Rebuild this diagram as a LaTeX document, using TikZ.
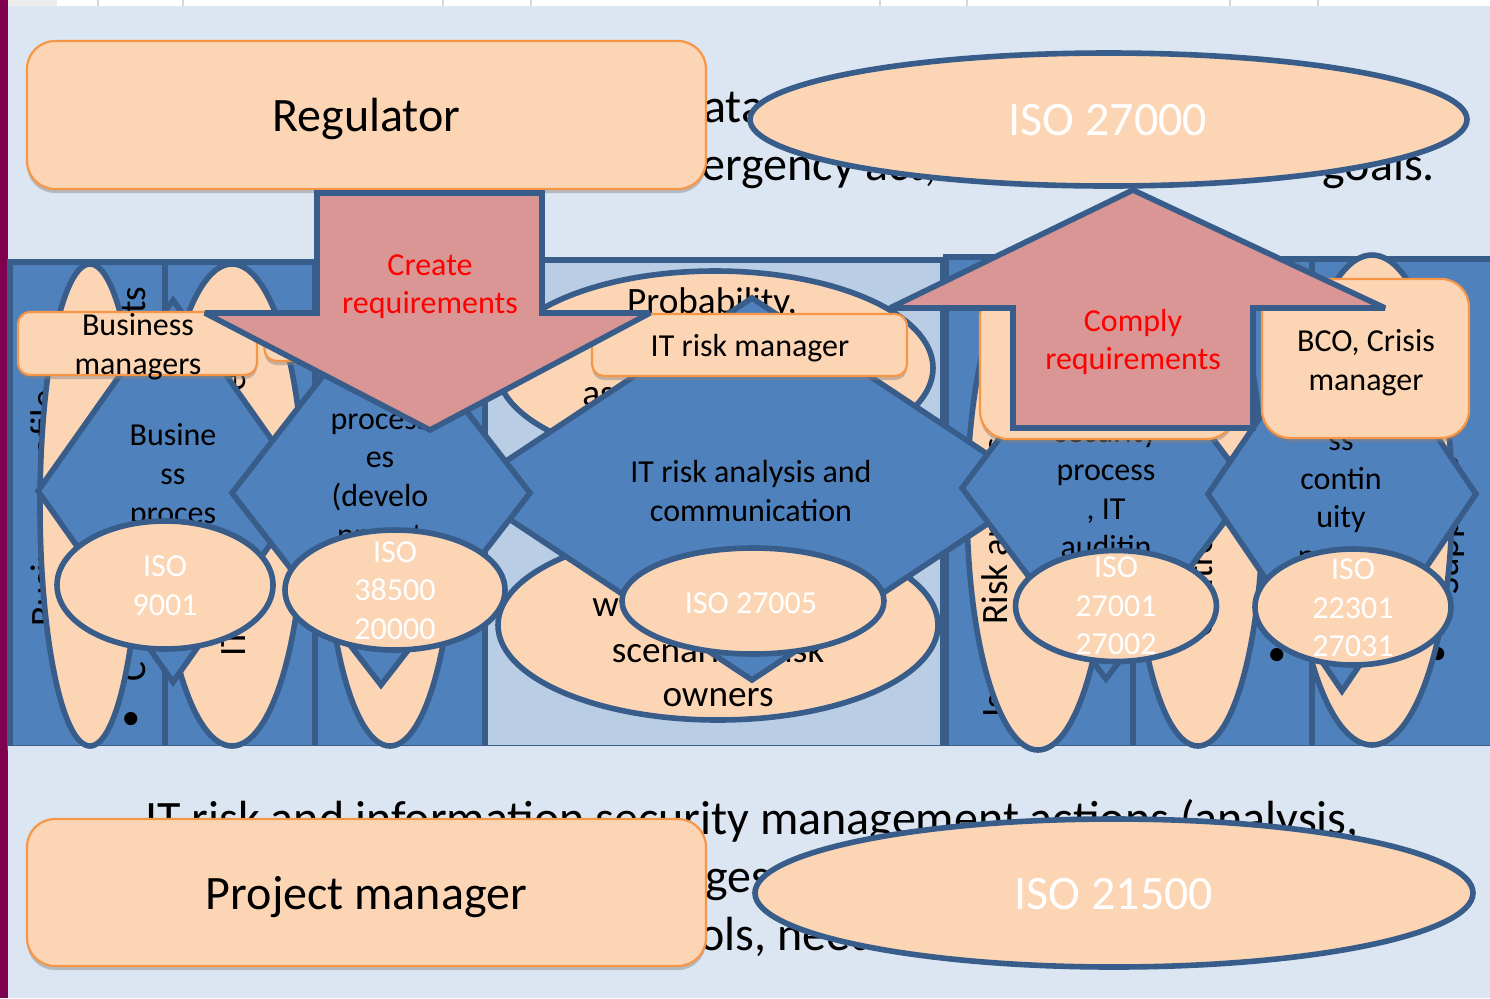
\documentclass[tikz,border=0pt]{standalone}
\usepackage{fontspec}
\setmainfont{Carlito}
\usetikzlibrary{shapes.geometric,shadows}
\definecolor{bgblue}{RGB}{220,230,242}
\definecolor{barpurple}{RGB}{128,0,80}
\definecolor{colblue}{RGB}{79,129,189}
\definecolor{lineblue}{RGB}{56,93,138}
\definecolor{paleblue}{RGB}{185,205,229}
\definecolor{peach}{RGB}{252,213,181}
\definecolor{boxorange}{RGB}{247,150,70}
\definecolor{arrowred}{RGB}{217,150,148}
\definecolor{tickgrey}{RGB}{215,215,215}
\tikzset{
  x=0.5pt,y=-0.5pt,
  txtm/.style={font=\fontsize{16}{19.3}\selectfont,align=center,inner sep=0pt,text=black},
  txtl/.style={font=\fontsize{18.6}{22.2}\selectfont,align=center,inner sep=0pt,text=black},
  txtbg/.style={font=\fontsize{24}{29}\selectfont,inner sep=0pt,anchor=base west,text=black},
  vert/.style={font=\fontsize{18.6}{22}\selectfont,inner sep=0pt,anchor=base west,rotate=90,text=black},
  dot/.style={font=\fontsize{18.6}{22}\selectfont,inner sep=0pt,text=black},
  isotxt/.style={font=\fontsize{16}{19.3}\selectfont,align=center,inner sep=0pt,text=white},
  bigtxt/.style={font=\fontsize{24}{28}\selectfont,align=center,inner sep=0pt},
  redtxt/.style={font=\fontsize{16}{19.3}\selectfont,align=center,inner sep=0pt,text=red},
  column/.style={draw=lineblue,line width=3.2pt},
  tallell/.style={shape=ellipse,draw=lineblue,line width=2.8pt,fill=peach,inner sep=0pt,outer sep=0pt},
  isoell/.style={shape=ellipse,draw=lineblue,line width=2.8pt,fill=peach,inner sep=0pt,outer sep=0pt},
  dia/.style={shape=diamond,draw=lineblue,line width=2.8pt,fill=colblue,inner sep=0pt,outer sep=0pt},
  rolebox/.style={shape=rectangle,draw=boxorange,line width=1.1pt,fill=peach,inner sep=0pt,outer sep=0pt,
    drop shadow={opacity=0.45,shadow xshift=0pt,shadow yshift=-2pt}},
  bigarrow/.style={draw=lineblue,line width=2.8pt,fill=arrowred,line join=miter,miter limit=3},
}
\begin{document}
\begin{tikzpicture}
\useasboundingbox (0,0) rectangle (1490,998);
% slide background
\fill[bgblue] (0,0) rectangle (1490,998);
\fill[white] (8,0) rectangle (1490,6);
\fill[black!7] (8,0) rectangle (57,6);
\foreach \tx in {98,183,443,531,880,967,1230,1318}{\fill[tickgrey] (\tx-1,0) rectangle (\tx+1,6);}
\fill[barpurple] (0,0) rectangle (8,998);
% text behind everything
\node[txtbg] (bga) at (703,122) {ata};
\node[txtbg] (bgb) at (701,180) {ergency act,};
\node[txtbg] (bgc) at (1322,180) {goals.};
\node[txtbg] (bgd) at (145,834) {IT risk and information security management actions (analysis,};
\node[txtbg] (bge) at (705,892) {ges};
\node[txtbg] (bgf) at (699,950) {ols, need};
% columns
\fill[column,fill=colblue] (10,262) rectangle (165,748);
\fill[column,fill=colblue] (165,262) rectangle (315,748);
\fill[column,fill=colblue] (315,262) rectangle (485,748);
\fill[column,fill=paleblue] (485,260) rectangle (943,748);
\fill[column,fill=colblue] (946,257) rectangle (1133,748);
\fill[column,fill=colblue] (1133,259) rectangle (1312,748);
\fill[column,fill=colblue] (1312,259) rectangle (1500,748);
\fill[bgblue] (8,746) rectangle (1490,760);
% text lying on the columns
\node[vert] (t1a) at (56,627) {Business profile};
\node[vert] (t1b) at (145,682) {C};
\node[vert] (t1c) at (145,314) {ts};
\node[dot] (t1d) at (131,721) {•};
\node[vert] (t5a) at (1007,718) {Is};
\node[vert] (t7a) at (1458,595) {Suppliers};
\node[dot] (t6b) at (1277,657) {•};
\node[dot] (t7b) at (1438,656) {•};
% tall ellipses
\node[tallell,minimum width=50pt,minimum height=241pt] (e1) at (90,505) {};
\node[tallell,minimum width=72pt,minimum height=241pt] (e2) at (232,505) {};
\node[tallell,minimum width=65pt,minimum height=241pt] (e3) at (390,505) {};
\node[tallell,minimum width=218pt,minimum height=97pt] (e4a) at (715,368) {};
\node[tallell,minimum width=220pt,minimum height=95pt] (e4b) at (718,625) {};
\node[tallell,minimum width=71pt,minimum height=245pt] (e5) at (1038,505) {};
\node[tallell,minimum width=65pt,minimum height=243pt] (e6) at (1198,503) {};
\node[tallell,minimum width=80pt,minimum height=245pt] (e7) at (1372,500) {};
% text on the ellipses
\node[vert] (t2a) at (245,657) {IT};
\node[vert] (t2b) at (245,392) {e};
\node[txtl] (t4a) at (712,304) {Probability,};
\node[txtl,anchor=west] (t4b) at (582,397) {as};
\node[txtl,anchor=west] (t4c) at (592,608) {w};
\node[txtl] (t4d) at (718,652) {scenarios, risk};
\node[txtl] (t4e) at (718,698) {owners};
\node[vert] (t5b) at (1007,625) {Risk analysis};
\node[vert] (t6a) at (1212,638) {Controls};
% diamonds
\node[dia,minimum width=288pt,minimum height=191pt] (d3) at (752,489) {};
\node[txtm] (d3t) at (751,491) {IT risk analysis and\\communication};
\node[dia,minimum width=135pt,minimum height=191pt] (d1) at (173,491) {};
\node[txtm] (d1t) at (173,476) {Busine\\ss\\proces};
\node[dia,minimum width=149pt,minimum height=192pt] (d2) at (381,493) {};
\node[txtm] (d2t) at (380,482) {process\\es\\(develo\\pment};
\node[dia,minimum width=144pt,minimum height=191pt] (d5) at (1106,488) {};
\node[txtm] (d5t) at (1106,489) {security\\process\\, IT\\auditin};
\node[dia,minimum width=134pt,minimum height=197pt] (d6) at (1342,494) {};
\node[txtm] (d6t) at (1341,503.5) {ss\\contin\\uity\\proces};
% role boxes
\node[rolebox,rounded corners=6pt,minimum width=119.5pt,minimum height=31.5pt] (r1) at (137.5,343.5) {};
\node[txtm] (r1t) at (138,347) {Business\\managers};
\node[rolebox,rounded corners=6pt,minimum width=117.5pt,minimum height=14pt] (r2) at (382,347) {};
\node[rolebox,rounded corners=6pt,minimum width=157.5pt,minimum height=31pt] (r3) at (749.5,345) {};
\node[txtm] (r3t) at (750,348) {IT risk manager};
\node[rolebox,rounded corners=14pt,minimum width=127.5pt,minimum height=75pt] (r4) at (1107.5,364) {};
\node[rolebox,rounded corners=14pt,minimum width=103.5pt,minimum height=79.5pt] (r5) at (1365.5,358.5) {};
\node[txtm] (r5t) at (1366,363) {BCO, Crisis\\manager};
% small standards ellipses
\node[isoell,minimum width=108pt,minimum height=64pt] (i1) at (165,585) {};
\node[isotxt] (i1t) at (165,585.5) {ISO\\9001};
\node[isoell,minimum width=110pt,minimum height=60pt] (i2) at (395,590) {};
\node[isotxt] (i2t) at (395,590.5) {ISO\\38500\\20000};
\node[isoell,minimum width=131pt,minimum height=53pt] (i3) at (753,601) {};
\node[isotxt] (i3t) at (751,603) {ISO 27005};
\node[isoell,minimum width=100.5pt,minimum height=55.5pt] (i4) at (1116,606) {};
\node[isotxt] (i4t) at (1116,606) {ISO\\27001\\27002};
\node[isoell,minimum width=98pt,minimum height=58pt] (i5) at (1353,607) {};
\node[isotxt] (i5t) at (1353,608) {ISO\\22301\\27031};
% large boxes and ellipses
\node[rolebox,rounded corners=14pt,minimum width=339.5pt,minimum height=74pt] (reg) at (366.5,115) {};
\node[bigtxt] (regt) at (366.5,119) {Regulator};
\node[rolebox,rounded corners=14pt,minimum width=339.5pt,minimum height=73.5pt] (pm) at (366.5,892.5) {};
\node[bigtxt] (pmt) at (366.5,897) {Project manager};
\node[isoell,minimum width=358.5pt,minimum height=66.5pt] (iso27) at (1108.5,119.5) {};
\node[bigtxt,text=white] (iso27t) at (1108,120) {ISO 27000};
\node[isoell,minimum width=359pt,minimum height=74pt] (iso21) at (1114,893) {};
\node[bigtxt,text=white] (iso21t) at (1114,894) {ISO 21500};
% big arrows
\draw[bigarrow] (317,193) -- (542,193) -- (542,313) -- (650,313) -- (430,430) -- (205,313) -- (317,313) -- cycle;
\node[redtxt] (create) at (430,286.5) {Create\\requirements};
\draw[bigarrow] (1133,190) -- (1385,308) -- (1253,308) -- (1253,428) -- (1013,428) -- (1013,308) -- (890,308) -- cycle;
\node[redtxt] (comply) at (1133,342) {Comply\\requirements};
\end{tikzpicture}
\end{document}
